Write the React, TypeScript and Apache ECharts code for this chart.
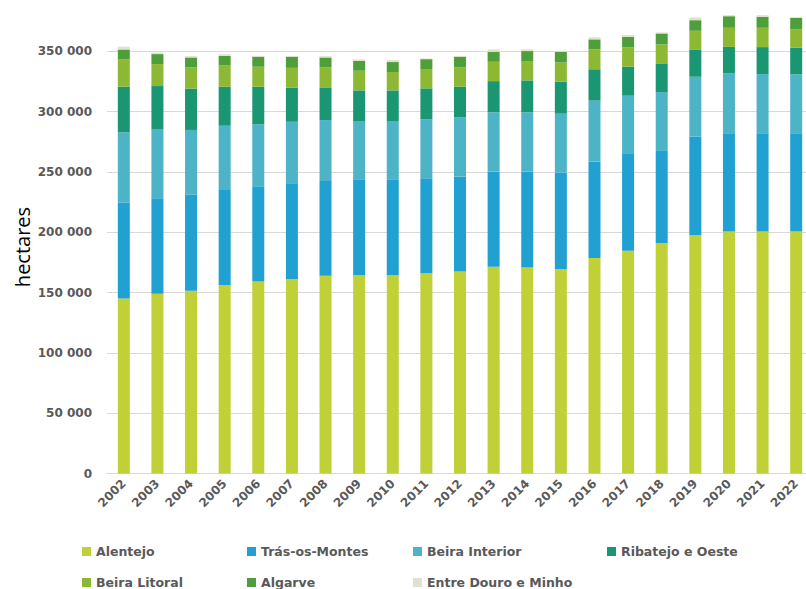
import React, { useEffect, useRef } from "react";
import * as echarts from "echarts";

const years = ["2002","2003","2004","2005","2006","2007","2008","2009","2010","2011","2012","2013","2014","2015","2016","2017","2018","2019","2020","2021","2022"];

const alentejo = [145100,149000,151500,156200,159200,161200,163900,164500,164500,166100,167500,171400,170800,169500,178600,184600,191000,197600,200600,200600,200600];
const trasOsMontes = [79500,79200,79500,78900,79000,79400,78600,78900,78900,78700,78600,78800,79400,79900,79900,80300,76400,81600,81400,81400,81400];
const beiraInterior = [58200,57400,53800,53200,51300,51000,50500,48800,48800,48800,49200,49200,49200,48900,50600,48300,48800,49700,49700,49100,48900];
const ribatejoOeste = [37800,35600,34200,32300,31100,28200,27100,25400,25400,25700,25300,25900,26500,26500,26000,24000,23800,22300,22000,22400,22000];
const beiraLitoral = [22700,18200,17700,17600,16600,16500,16600,16300,15200,16000,16100,16000,16000,16000,16500,16000,15700,15800,15800,16000,15200];
const algarve = [8300,8300,8200,8000,8300,9200,8200,8200,8300,8200,8800,8300,8300,8800,8300,8800,9100,8800,9600,9100,9600];
const entreDouroMinho = [2100,1200,1100,1400,800,800,1100,1200,1600,600,800,2000,1400,800,1700,1400,800,2300,900,1400,600];

const seriesNames = ["Alentejo","Trás-os-Montes","Beira Interior","Ribatejo e Oeste","Beira Litoral","Algarve","Entre Douro e Minho"];
const seriesData = [alentejo, trasOsMontes, beiraInterior, ribatejoOeste, beiraLitoral, algarve, entreDouroMinho];
const seriesColors = ["#BFD136","#21A0D2","#4DB3C6","#1A9673","#8DB833","#4E9E3A","#E0E0D0"];

// inner chart canvas is shifted up by 9px (the 400 000 gridline lies just above the visible area)
const SHIFT = 9;
const legendPos = [
  [82, 545], [247, 545], [413, 545], [607, 545],
  [82, 576], [247, 576], [413, 576],
];

const gray = "#595959";
const font = "DejaVu Sans";

export default function App() {
  const ref = useRef<HTMLDivElement>(null);
  useEffect(() => {
    if (!ref.current) return;
    const chart = echarts.init(ref.current, null, { renderer: "svg" });
    chart.setOption({
      animation: false,
      backgroundColor: "#ffffff",
      grid: { left: 107, right: 0, top: 0, bottom: 115.5, containLabel: false, outerBoundsMode: "none" },
      xAxis: {
        type: "category",
        data: years,
        axisLine: { show: true, lineStyle: { color: "#D9D9D9", width: 1 } },
        axisTick: { show: false },
        axisLabel: {
          rotate: 45,
          margin: 8,
          color: gray,
          fontFamily: font,
          fontWeight: "bold",
          fontSize: 12,
          interval: 0,
        },
      },
      yAxis: {
        type: "value",
        min: 0,
        max: 400000,
        interval: 50000,
        axisLine: { show: false },
        axisTick: { show: false },
        splitLine: { lineStyle: { color: "#D9D9D9", width: 1 } },
        axisLabel: {
          margin: 15,
          showMaxLabel: false,
          color: gray,
          fontFamily: font,
          fontWeight: "bold",
          fontSize: 12,
          formatter: (v: number) => String(v).replace(/\B(?=(\d{3})+(?!\d))/g, " "),
        },
      },
      legend: seriesNames.map((n, i) => ({
        data: [n],
        left: legendPos[i][0],
        top: legendPos[i][1] + SHIFT,
        icon: "rect",
        itemWidth: 9,
        itemHeight: 9,
        padding: 0,
        itemGap: 0,
        selectedMode: false,
        textStyle: { color: gray, fontFamily: font, fontWeight: "bold", fontSize: 12.5 },
      })),
      graphic: [
        {
          type: "text",
          x: 22,
          y: 247 + SHIFT,
          rotation: Math.PI / 2,
          style: {
            text: "hectares",
            fontFamily: "Open Sans",
            fontSize: 20,
            fill: "#000000",
            align: "center",
            verticalAlign: "middle",
          },
        },
      ],
      series: seriesNames.map((n, i) => ({
        name: n,
        type: "bar",
        stack: "total",
        barWidth: 12,
        data: seriesData[i],
        itemStyle: { color: seriesColors[i] },
      })),
    });
    return () => chart.dispose();
  }, []);
  return (
    <div style={{ position: "absolute", left: 0, top: 0, width: 806, height: 589, overflow: "hidden", background: "#fff" }}>
      <div
        ref={ref}
        style={{ position: "absolute", left: 0, top: -SHIFT, width: 813, height: 589 + SHIFT }}
      />
    </div>
  );
}
